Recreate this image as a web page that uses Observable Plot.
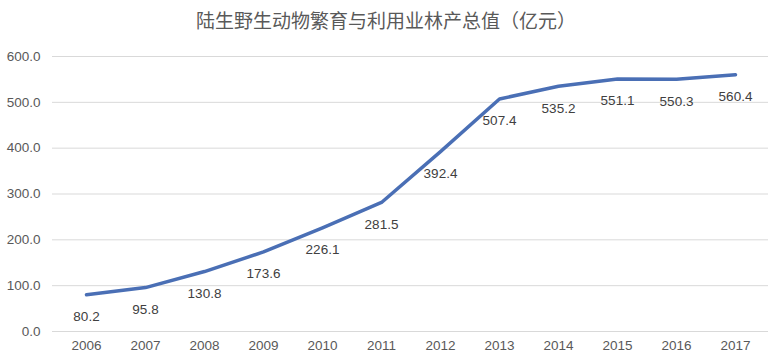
<!DOCTYPE html>
<html>
<head>
<meta charset="utf-8">
<script src="https://cdn.jsdelivr.net/npm/d3@7"></script>
<script src="https://cdn.jsdelivr.net/npm/@observablehq/plot@0.6"></script>
<style>
  html, body { margin: 0; padding: 0; background: #fff; }
  #title { height: 40px; line-height: 40px; text-align: center; font-family: "Noto Sans CJK SC", sans-serif; font-size: 19px; color: #595959; padding-right: 10px; }
</style>
</head>
<body>
<div id="title">陆生野生动物繁育与利用业林产总值（亿元）</div>
<div id="chart"></div>
<script>
const years = ["2006","2007","2008","2009","2010","2011","2012","2013","2014","2015","2016","2017"];
const values = [80.2, 95.8, 130.8, 173.6, 226.1, 281.5, 392.4, 507.4, 535.2, 551.1, 550.3, 560.4];
const yTicks = [0, 100, 200, 300, 400, 500, 600];

const data = years.map((y, i) => ({year: y, value: values[i]}));
const font = '"Liberation Sans", Arial, "Noto Sans CJK SC", sans-serif';

const chart = Plot.plot({
  width: 782,
  height: 322,
  marginLeft: 52,
  marginRight: 14,
  marginTop: 16,
  marginBottom: 31,
  style: {fontFamily: font, fontSize: "13.5px", color: "#595959", background: "#fff"},
  x: {type: "point", domain: years, padding: 0.5, label: null},
  y: {domain: [0, 600], ticks: yTicks, label: null, tickFormat: d => d.toFixed(1)},
  marks: [
    Plot.gridY(yTicks, {stroke: "#d9d9d9", strokeOpacity: 1, strokeWidth: 1}),
    Plot.axisY(yTicks, {tickSize: 0, tickPadding: 12, fontSize: 13.5, fill: "#595959", tickFormat: d => d.toFixed(1)}),
    Plot.axisX({tickSize: 0, tickPadding: 9, fontSize: 13.5, fill: "#595959"}),
    Plot.line(data, {x: "year", y: "value", stroke: "#4a6fb5", strokeWidth: 3.5, curve: "linear", strokeLinejoin: "round"}),
    Plot.text(data, {x: "year", y: "value", text: d => d.value.toFixed(1), dy: 22, fill: "#404040", fontSize: 13.5})
  ]
});
document.getElementById("chart").appendChild(chart);
</script>
</body>
</html>
